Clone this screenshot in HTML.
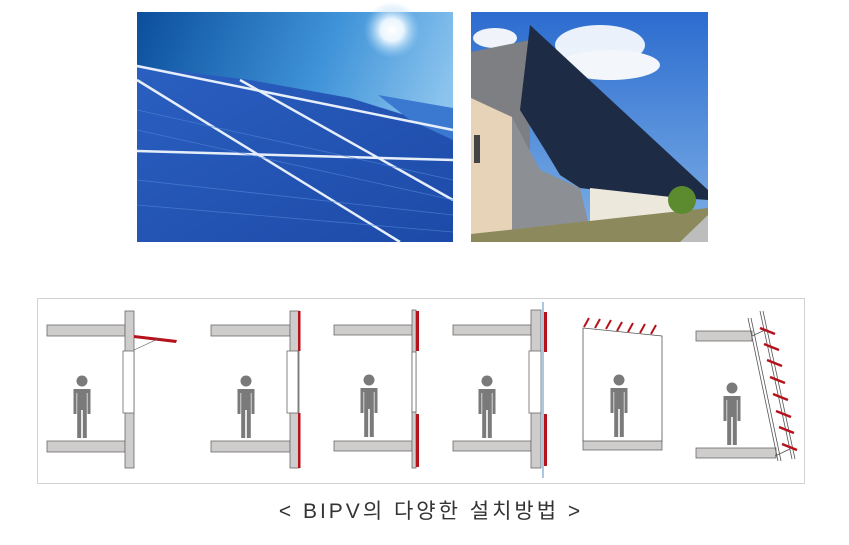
<!DOCTYPE html>
<html><head><meta charset="utf-8"><style>
html,body{margin:0;padding:0;background:#fff;}
svg{display:block}
</style></head><body>
<svg width="849" height="545" viewBox="0 0 849 545" xmlns="http://www.w3.org/2000/svg">
<defs>
<linearGradient id="sky1" x1="0" y1="0" x2="1" y2="0.3">
<stop offset="0" stop-color="#0b4e9c"/><stop offset="0.6" stop-color="#3f93d8"/><stop offset="1" stop-color="#8cc4ee"/>
</linearGradient>
<radialGradient id="sun" cx="0.5" cy="0.5" r="0.5">
<stop offset="0" stop-color="#fff"/><stop offset="0.4" stop-color="#eaf6ff"/><stop offset="1" stop-color="#9fd0f5" stop-opacity="0"/>
</radialGradient>
<linearGradient id="panel" x1="0" y1="0" x2="1" y2="1">
<stop offset="0" stop-color="#2a5fc0"/><stop offset="1" stop-color="#1d4aa8"/>
</linearGradient>
<linearGradient id="sky2" x1="0" y1="0" x2="0" y2="1">
<stop offset="0" stop-color="#2c6ccf"/><stop offset="1" stop-color="#7fb1e6"/>
</linearGradient>
<g id="man" fill="#7a7a7a">
<circle cx="0" cy="0" r="5.5"/>
<path d="M-8.5,8 h17 v25 h-3 v-21 h-0.7 v45 h-4 v-28 h-1.6 v28 h-4 v-45 h-0.7 v21 h-3z"/>
</g>
</defs>

<!-- photo 1 -->
<rect x="137" y="12" width="316" height="230" fill="url(#sky1)"/>
<circle cx="392" cy="30" r="28" fill="url(#sun)"/>
<polygon points="137,66 250,80 350,98 453,130 453,242 137,242" fill="url(#panel)"/>
<polygon points="378,95 453,108 453,140 410,120" fill="#3b78d0"/>
<g stroke="#e6eefa" stroke-width="2.5" fill="none">
<line x1="137" y1="66" x2="453" y2="130"/>
<line x1="137" y1="151" x2="453" y2="160"/>
<line x1="137" y1="80" x2="400" y2="242"/>
<line x1="240" y1="80" x2="453" y2="200"/>
</g>
<g stroke="#4f86d6" stroke-width="0.8" opacity="0.7">
<line x1="137" y1="110" x2="453" y2="180"/><line x1="137" y1="130" x2="453" y2="200"/>
<line x1="137" y1="180" x2="453" y2="215"/><line x1="137" y1="205" x2="453" y2="232"/>
</g>

<!-- photo 2 -->
<rect x="471" y="12" width="237" height="230" fill="url(#sky2)"/>
<ellipse cx="600" cy="45" rx="45" ry="20" fill="#fff" opacity="0.9"/>
<ellipse cx="610" cy="65" rx="50" ry="15" fill="#f3f6fa"/>
<ellipse cx="495" cy="38" rx="22" ry="10" fill="#f0f4fa"/>
<polygon points="471,52 530,40 530,240 471,240" fill="#7d7f82"/>
<polygon points="530,25 708,190 708,200 640,195 580,188 560,175 545,150 520,110" fill="#1e2b45"/>
<polygon points="471,98 512,117 512,242 471,242" fill="#e6d3b8"/>
<rect x="474" y="135" width="6" height="28" fill="#444"/>
<polygon points="512,117 540,170 580,188 590,230 512,235" fill="#8c8f93"/>
<polygon points="590,188 680,198 680,218 590,228" fill="#ece8dc"/>
<polygon points="471,234 708,208 708,242 471,242" fill="#8c8a5c"/>
<polygon points="680,242 708,215 708,242" fill="#bdbdbd"/>
<ellipse cx="682" cy="200" rx="14" ry="14" fill="#5b8a2f"/>

<!-- diagram box -->
<rect x="37.5" y="298.5" width="767" height="185" fill="#fff" stroke="#d2d2d2"/>
<g fill="#cfcccc" stroke="#6a6a6a" stroke-width="0.8">
<rect x="47" y="325" width="78" height="11"/>
<rect x="47" y="441" width="78" height="11"/>
<rect x="125" y="311" width="9" height="157"/>
<rect x="211" y="325" width="79" height="11"/>
<rect x="211" y="441" width="79" height="11"/>
<rect x="290" y="311" width="9" height="157"/>
<rect x="334" y="325" width="78" height="10"/>
<rect x="334" y="441" width="78" height="10"/>
<rect x="412" y="310" width="4" height="158"/>
<rect x="453" y="325" width="78" height="10"/>
<rect x="453" y="441" width="78" height="10"/>
<rect x="531" y="310" width="10" height="158"/>
<rect x="583" y="440" width="79" height="10"/>
<rect x="696" y="331" width="56" height="10"/>
<rect x="696" y="448" width="80" height="10"/>
</g>
<g fill="#fff" stroke="#6a6a6a" stroke-width="0.8">
<rect x="123" y="351" width="11" height="62"/>
<rect x="287" y="351" width="11" height="62"/>
<rect x="412" y="352" width="4" height="60"/>
<rect x="529" y="351" width="12" height="62"/>
</g>
<g fill="#b5121b">
<polygon points="134,335 177,340 176,343 134,338"/>
<rect x="298" y="311" width="2.5" height="40"/>
<rect x="298" y="413" width="2.5" height="55"/>
<rect x="416" y="311" width="3" height="40"/>
<rect x="416" y="414" width="3" height="53"/>
<rect x="544" y="312" width="3" height="40"/>
<rect x="544" y="414" width="3" height="52"/>
</g>
<line x1="134" y1="350" x2="160" y2="338" stroke="#555" stroke-width="0.6"/>
<line x1="543" y1="302" x2="543" y2="478" stroke="#5a8fc0" stroke-width="1"/>
<polygon points="583,328 662,336 662,441 583,441" fill="#fff" stroke="#555" stroke-width="0.8"/>
<g stroke="#b5121b" stroke-width="2">
<line x1="584" y1="327" x2="589" y2="318"/><line x1="595" y1="328" x2="600" y2="319"/>
<line x1="606" y1="329" x2="611" y2="320"/><line x1="617" y1="331" x2="622" y2="322"/>
<line x1="628" y1="332" x2="633" y2="323"/><line x1="640" y1="333" x2="645" y2="324"/>
<line x1="651" y1="334" x2="656" y2="325"/>
</g>
<g stroke="#555" stroke-width="0.8" fill="none">
<line x1="748" y1="318" x2="778" y2="461"/><line x1="751" y1="318" x2="781" y2="461"/>
<line x1="760" y1="311" x2="792" y2="459"/><line x1="763" y1="311" x2="795" y2="459"/>
<line x1="752" y1="336" x2="765" y2="330"/><line x1="775" y1="456" x2="790" y2="449"/>
</g>
<g stroke="#b5121b" stroke-width="2.5">
<line x1="760" y1="328" x2="775" y2="334"/><line x1="764" y1="344" x2="779" y2="350"/>
<line x1="767" y1="360" x2="782" y2="366"/><line x1="770" y1="377" x2="785" y2="383"/>
<line x1="773" y1="394" x2="788" y2="400"/><line x1="776" y1="411" x2="791" y2="417"/>
<line x1="779" y1="427" x2="794" y2="433"/><line x1="782" y1="444" x2="797" y2="450"/>
</g>
<use href="#man" x="82" y="381"/>
<use href="#man" x="246" y="381"/>
<use href="#man" x="369" y="380"/>
<use href="#man" x="487" y="381"/>
<use href="#man" x="619" y="380"/>
<use href="#man" x="732" y="388"/>

<text x="431" y="518" text-anchor="middle" font-family="'Liberation Sans','Noto Sans CJK KR',sans-serif" font-size="21" letter-spacing="3" fill="#333">&lt; BIPV의 다양한 설치방법 &gt;</text>
</svg>
</body></html>
